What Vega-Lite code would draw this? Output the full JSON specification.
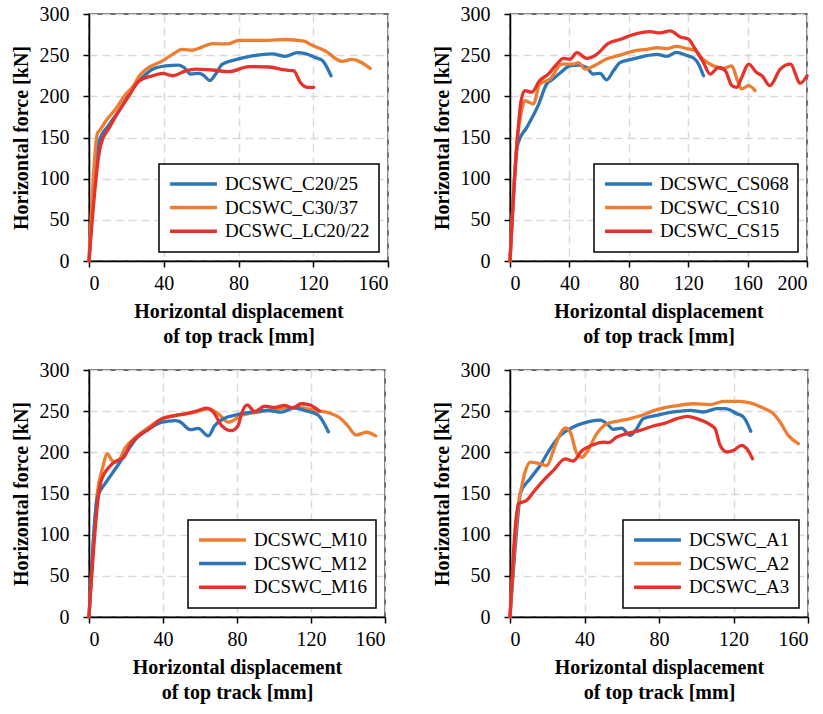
{
  "$schema": "https://vega.github.io/schema/vega-lite/v6.json",
  "padding": {"left": 10, "top": 3, "right": 0, "bottom": 2},
  "background": "white",
  "columns": 2,
  "spacing": {"row": 109, "column": 122},
  "bounds": "flush",
  "align": "none",
  "resolve": {"scale": {"color": "independent", "x": "independent", "y": "independent"}, "legend": {"color": "independent"}},
  "concat": [
    {
      "width": 299, "height": 247,
      "data": {"values": [
        {"s":"DCSWC_C20/25","x":0,"y":0},{"s":"DCSWC_C20/25","x":4.8,"y":138},{"s":"DCSWC_C20/25","x":5.5,"y":146},{"s":"DCSWC_C20/25","x":10.9,"y":166},{"s":"DCSWC_C20/25","x":18,"y":189},{"s":"DCSWC_C20/25","x":23.3,"y":211},{"s":"DCSWC_C20/25","x":28.6,"y":223},{"s":"DCSWC_C20/25","x":34,"y":233},{"s":"DCSWC_C20/25","x":41,"y":237},{"s":"DCSWC_C20/25","x":48,"y":238},{"s":"DCSWC_C20/25","x":50.9,"y":235},{"s":"DCSWC_C20/25","x":54.4,"y":227},{"s":"DCSWC_C20/25","x":59,"y":228},{"s":"DCSWC_C20/25","x":61.6,"y":225},{"s":"DCSWC_C20/25","x":64.6,"y":219},{"s":"DCSWC_C20/25","x":67.8,"y":227},{"s":"DCSWC_C20/25","x":71.4,"y":239},{"s":"DCSWC_C20/25","x":78.5,"y":244.5},{"s":"DCSWC_C20/25","x":87.4,"y":249},{"s":"DCSWC_C20/25","x":98,"y":251.5},{"s":"DCSWC_C20/25","x":105,"y":248.6},{"s":"DCSWC_C20/25","x":111.4,"y":253},{"s":"DCSWC_C20/25","x":115.8,"y":252},{"s":"DCSWC_C20/25","x":121.2,"y":247},{"s":"DCSWC_C20/25","x":124.7,"y":244},{"s":"DCSWC_C20/25","x":129.5,"y":225},
        {"s":"DCSWC_C30/37","x":0,"y":0},{"s":"DCSWC_C30/37","x":4.5,"y":155},{"s":"DCSWC_C30/37","x":5.5,"y":158},{"s":"DCSWC_C30/37","x":9,"y":170},{"s":"DCSWC_C30/37","x":14.4,"y":185},{"s":"DCSWC_C30/37","x":19.8,"y":203},{"s":"DCSWC_C30/37","x":23.3,"y":211},{"s":"DCSWC_C30/37","x":27,"y":225},{"s":"DCSWC_C30/37","x":31.3,"y":234},{"s":"DCSWC_C30/37","x":39.3,"y":243},{"s":"DCSWC_C30/37","x":44.7,"y":251},{"s":"DCSWC_C30/37","x":50,"y":257},{"s":"DCSWC_C30/37","x":55.3,"y":256},{"s":"DCSWC_C30/37","x":60.7,"y":260},{"s":"DCSWC_C30/37","x":66,"y":264},{"s":"DCSWC_C30/37","x":74,"y":263.6},{"s":"DCSWC_C30/37","x":80.2,"y":268},{"s":"DCSWC_C30/37","x":87.4,"y":268},{"s":"DCSWC_C30/37","x":96,"y":268},{"s":"DCSWC_C30/37","x":105,"y":269},{"s":"DCSWC_C30/37","x":115,"y":267},{"s":"DCSWC_C30/37","x":119.4,"y":262},{"s":"DCSWC_C30/37","x":126.5,"y":255},{"s":"DCSWC_C30/37","x":135.4,"y":242.5},{"s":"DCSWC_C30/37","x":140.7,"y":245},{"s":"DCSWC_C30/37","x":150.5,"y":234},
        {"s":"DCSWC_LC20/22","x":0,"y":0},{"s":"DCSWC_LC20/22","x":5.5,"y":132},{"s":"DCSWC_LC20/22","x":6.4,"y":142},{"s":"DCSWC_LC20/22","x":10.9,"y":162},{"s":"DCSWC_LC20/22","x":16.2,"y":183},{"s":"DCSWC_LC20/22","x":21.5,"y":201},{"s":"DCSWC_LC20/22","x":27,"y":219},{"s":"DCSWC_LC20/22","x":34,"y":225},{"s":"DCSWC_LC20/22","x":39.3,"y":228},{"s":"DCSWC_LC20/22","x":44.7,"y":225},{"s":"DCSWC_LC20/22","x":51.8,"y":231},{"s":"DCSWC_LC20/22","x":57,"y":233},{"s":"DCSWC_LC20/22","x":66,"y":232},{"s":"DCSWC_LC20/22","x":75,"y":230},{"s":"DCSWC_LC20/22","x":85.6,"y":236},{"s":"DCSWC_LC20/22","x":96.3,"y":235.6},{"s":"DCSWC_LC20/22","x":105,"y":232},{"s":"DCSWC_LC20/22","x":109.6,"y":231},{"s":"DCSWC_LC20/22","x":113,"y":217},{"s":"DCSWC_LC20/22","x":116.7,"y":211},{"s":"DCSWC_LC20/22","x":120.3,"y":211}
      ]},
      "mark": {"type": "line", "interpolate": "monotone", "strokeWidth": 3.3, "strokeCap": "round"},
      "encoding": {
        "x": {"field": "x", "type": "quantitative", "scale": {"domain": [0, 160], "nice": false}, "axis": {"values": [0, 40, 80, 120, 160], "title": ["Horizontal displacement", "of top track [mm]"]}},
        "y": {"field": "y", "type": "quantitative", "scale": {"domain": [0, 300], "nice": false}, "axis": {"values": [0, 50, 100, 150, 200, 250, 300], "title": "Horizontal force [kN]"}},
        "color": {"field": "s", "type": "nominal", "scale": {"domain": ["DCSWC_C20/25", "DCSWC_C30/37", "DCSWC_LC20/22"], "range": ["#2e75b6", "#ed7d31", "#e5322b"]}, "legend": {"title": null}}
      }
    },
    {
      "width": 297, "height": 247,
      "data": {"values": [
        {"s":"DCSWC_CS068","x":0,"y":0},{"s":"DCSWC_CS068","x":5,"y":140},{"s":"DCSWC_CS068","x":5.6,"y":144},{"s":"DCSWC_CS068","x":11.2,"y":162},{"s":"DCSWC_CS068","x":19,"y":189},{"s":"DCSWC_CS068","x":24.7,"y":215},{"s":"DCSWC_CS068","x":29,"y":221},{"s":"DCSWC_CS068","x":34.8,"y":230},{"s":"DCSWC_CS068","x":40.4,"y":237},{"s":"DCSWC_CS068","x":46,"y":238},{"s":"DCSWC_CS068","x":51.7,"y":235},{"s":"DCSWC_CS068","x":56,"y":227},{"s":"DCSWC_CS068","x":60.7,"y":228},{"s":"DCSWC_CS068","x":65,"y":220},{"s":"DCSWC_CS068","x":69.7,"y":231},{"s":"DCSWC_CS068","x":74,"y":241},{"s":"DCSWC_CS068","x":81,"y":244.5},{"s":"DCSWC_CS068","x":90,"y":248.6},{"s":"DCSWC_CS068","x":99,"y":251},{"s":"DCSWC_CS068","x":105.6,"y":248.6},{"s":"DCSWC_CS068","x":112,"y":253.5},{"s":"DCSWC_CS068","x":119,"y":249.6},{"s":"DCSWC_CS068","x":123.6,"y":246.6},{"s":"DCSWC_CS068","x":127,"y":239},{"s":"DCSWC_CS068","x":130.3,"y":225},
        {"s":"DCSWC_CS10","x":0,"y":0},{"s":"DCSWC_CS10","x":5,"y":150},{"s":"DCSWC_CS10","x":7.5,"y":180},{"s":"DCSWC_CS10","x":10,"y":194.7},{"s":"DCSWC_CS10","x":12.5,"y":193},{"s":"DCSWC_CS10","x":15.7,"y":190.7},{"s":"DCSWC_CS10","x":20,"y":215},{"s":"DCSWC_CS10","x":27,"y":221},{"s":"DCSWC_CS10","x":34.8,"y":239},{"s":"DCSWC_CS10","x":42.7,"y":239},{"s":"DCSWC_CS10","x":46,"y":241},{"s":"DCSWC_CS10","x":50.6,"y":233},{"s":"DCSWC_CS10","x":56,"y":236.4},{"s":"DCSWC_CS10","x":65,"y":245.3},{"s":"DCSWC_CS10","x":74,"y":250},{"s":"DCSWC_CS10","x":83,"y":255},{"s":"DCSWC_CS10","x":92,"y":257},{"s":"DCSWC_CS10","x":99,"y":259},{"s":"DCSWC_CS10","x":105.6,"y":258},{"s":"DCSWC_CS10","x":112,"y":260.7},{"s":"DCSWC_CS10","x":119,"y":258},{"s":"DCSWC_CS10","x":124.7,"y":255.5},{"s":"DCSWC_CS10","x":130,"y":245},{"s":"DCSWC_CS10","x":137,"y":237},{"s":"DCSWC_CS10","x":144,"y":234},{"s":"DCSWC_CS10","x":149.4,"y":237},{"s":"DCSWC_CS10","x":152.8,"y":221},{"s":"DCSWC_CS10","x":156,"y":209},{"s":"DCSWC_CS10","x":160.7,"y":213},{"s":"DCSWC_CS10","x":165,"y":207},
        {"s":"DCSWC_CS15","x":0,"y":0},{"s":"DCSWC_CS15","x":5.2,"y":155},{"s":"DCSWC_CS15","x":7.5,"y":195},{"s":"DCSWC_CS15","x":10,"y":207},{"s":"DCSWC_CS15","x":14.6,"y":205},{"s":"DCSWC_CS15","x":20,"y":219},{"s":"DCSWC_CS15","x":25.8,"y":227},{"s":"DCSWC_CS15","x":31.5,"y":239},{"s":"DCSWC_CS15","x":36,"y":246},{"s":"DCSWC_CS15","x":40.4,"y":245},{"s":"DCSWC_CS15","x":45,"y":253},{"s":"DCSWC_CS15","x":51.7,"y":246},{"s":"DCSWC_CS15","x":58.4,"y":251},{"s":"DCSWC_CS15","x":66,"y":264},{"s":"DCSWC_CS15","x":74,"y":269},{"s":"DCSWC_CS15","x":83,"y":275},{"s":"DCSWC_CS15","x":94.4,"y":278.5},{"s":"DCSWC_CS15","x":101,"y":277},{"s":"DCSWC_CS15","x":108,"y":279.6},{"s":"DCSWC_CS15","x":114.6,"y":272},{"s":"DCSWC_CS15","x":120,"y":269.6},{"s":"DCSWC_CS15","x":124.7,"y":257.5},{"s":"DCSWC_CS15","x":130.3,"y":241},{"s":"DCSWC_CS15","x":134.8,"y":227},{"s":"DCSWC_CS15","x":140.4,"y":235},{"s":"DCSWC_CS15","x":145,"y":231},{"s":"DCSWC_CS15","x":149.4,"y":213},{"s":"DCSWC_CS15","x":152.8,"y":211},{"s":"DCSWC_CS15","x":156,"y":223},{"s":"DCSWC_CS15","x":160.7,"y":239},{"s":"DCSWC_CS15","x":166,"y":229},{"s":"DCSWC_CS15","x":169.7,"y":225},{"s":"DCSWC_CS15","x":175,"y":213},{"s":"DCSWC_CS15","x":182,"y":233},{"s":"DCSWC_CS15","x":188.8,"y":239},{"s":"DCSWC_CS15","x":195.5,"y":216},{"s":"DCSWC_CS15","x":200,"y":225}
      ]},
      "mark": {"type": "line", "interpolate": "monotone", "strokeWidth": 3.3, "strokeCap": "round"},
      "encoding": {
        "x": {"field": "x", "type": "quantitative", "scale": {"domain": [0, 200], "nice": false}, "axis": {"values": [0, 40, 80, 120, 160, 200], "title": ["Horizontal displacement", "of top track [mm]"]}},
        "y": {"field": "y", "type": "quantitative", "scale": {"domain": [0, 300], "nice": false}, "axis": {"values": [0, 50, 100, 150, 200, 250, 300], "title": "Horizontal force [kN]"}},
        "color": {"field": "s", "type": "nominal", "scale": {"domain": ["DCSWC_CS068", "DCSWC_CS10", "DCSWC_CS15"], "range": ["#2e75b6", "#ed7d31", "#e5322b"]}, "legend": {"title": null}}
      }
    },
    {
      "width": 296, "height": 247,
      "data": {"values": [
        {"s":"DCSWC_M10","x":0,"y":0},{"s":"DCSWC_M10","x":4.5,"y":151},{"s":"DCSWC_M10","x":7.2,"y":180},{"s":"DCSWC_M10","x":9.9,"y":198},{"s":"DCSWC_M10","x":12.5,"y":190},{"s":"DCSWC_M10","x":15.2,"y":188},{"s":"DCSWC_M10","x":19.7,"y":206},{"s":"DCSWC_M10","x":25,"y":218},{"s":"DCSWC_M10","x":32,"y":230},{"s":"DCSWC_M10","x":39.4,"y":240.7},{"s":"DCSWC_M10","x":48.4,"y":245.5},{"s":"DCSWC_M10","x":57.3,"y":248.8},{"s":"DCSWC_M10","x":64.5,"y":252.8},{"s":"DCSWC_M10","x":70,"y":246.7},{"s":"DCSWC_M10","x":75.3,"y":236.6},{"s":"DCSWC_M10","x":82.4,"y":244.7},{"s":"DCSWC_M10","x":91.4,"y":248.8},{"s":"DCSWC_M10","x":102,"y":252.8},{"s":"DCSWC_M10","x":113,"y":255},{"s":"DCSWC_M10","x":122,"y":251},{"s":"DCSWC_M10","x":131,"y":247},{"s":"DCSWC_M10","x":135,"y":242.7},{"s":"DCSWC_M10","x":139.8,"y":232.5},{"s":"DCSWC_M10","x":144.3,"y":221},{"s":"DCSWC_M10","x":150,"y":224.4},{"s":"DCSWC_M10","x":155,"y":220},
        {"s":"DCSWC_M12","x":0,"y":0},{"s":"DCSWC_M12","x":4.5,"y":145},{"s":"DCSWC_M12","x":9,"y":163},{"s":"DCSWC_M12","x":14.3,"y":180},{"s":"DCSWC_M12","x":19.7,"y":198},{"s":"DCSWC_M12","x":26,"y":218},{"s":"DCSWC_M12","x":32.2,"y":228},{"s":"DCSWC_M12","x":39.4,"y":236.6},{"s":"DCSWC_M12","x":46.6,"y":238.6},{"s":"DCSWC_M12","x":49.3,"y":237},{"s":"DCSWC_M12","x":54.7,"y":227.6},{"s":"DCSWC_M12","x":59,"y":229},{"s":"DCSWC_M12","x":64.5,"y":220},{"s":"DCSWC_M12","x":68,"y":232.5},{"s":"DCSWC_M12","x":72.6,"y":240.7},{"s":"DCSWC_M12","x":79.7,"y":245.5},{"s":"DCSWC_M12","x":87.8,"y":248.8},{"s":"DCSWC_M12","x":96.8,"y":250.8},{"s":"DCSWC_M12","x":104,"y":248.8},{"s":"DCSWC_M12","x":111,"y":254},{"s":"DCSWC_M12","x":116.5,"y":250.8},{"s":"DCSWC_M12","x":123.7,"y":245.5},{"s":"DCSWC_M12","x":129.4,"y":225},
        {"s":"DCSWC_M16","x":0,"y":0},{"s":"DCSWC_M16","x":5,"y":145},{"s":"DCSWC_M16","x":6.3,"y":163},{"s":"DCSWC_M16","x":10.8,"y":182},{"s":"DCSWC_M16","x":15.2,"y":190},{"s":"DCSWC_M16","x":18.8,"y":194},{"s":"DCSWC_M16","x":22.4,"y":210},{"s":"DCSWC_M16","x":26.9,"y":220},{"s":"DCSWC_M16","x":32.2,"y":228},{"s":"DCSWC_M16","x":39.4,"y":240.7},{"s":"DCSWC_M16","x":46.6,"y":244.7},{"s":"DCSWC_M16","x":52,"y":246.7},{"s":"DCSWC_M16","x":59,"y":250.8},{"s":"DCSWC_M16","x":63.6,"y":253.6},{"s":"DCSWC_M16","x":67.2,"y":248.8},{"s":"DCSWC_M16","x":71.7,"y":232.5},{"s":"DCSWC_M16","x":77,"y":226.4},{"s":"DCSWC_M16","x":80.6,"y":232.5},{"s":"DCSWC_M16","x":82.4,"y":246.7},{"s":"DCSWC_M16","x":85.5,"y":257.7},{"s":"DCSWC_M16","x":89.6,"y":249.6},{"s":"DCSWC_M16","x":95,"y":256},{"s":"DCSWC_M16","x":100.4,"y":254.5},{"s":"DCSWC_M16","x":105.7,"y":257},{"s":"DCSWC_M16","x":110.2,"y":254},{"s":"DCSWC_M16","x":114.7,"y":259},{"s":"DCSWC_M16","x":119.2,"y":257.7},{"s":"DCSWC_M16","x":124.6,"y":250}
      ]},
      "mark": {"type": "line", "interpolate": "monotone", "strokeWidth": 3.3, "strokeCap": "round"},
      "encoding": {
        "x": {"field": "x", "type": "quantitative", "scale": {"domain": [0, 160], "nice": false}, "axis": {"values": [0, 40, 80, 120, 160], "title": ["Horizontal displacement", "of top track [mm]"]}},
        "y": {"field": "y", "type": "quantitative", "scale": {"domain": [0, 300], "nice": false}, "axis": {"values": [0, 50, 100, 150, 200, 250, 300], "title": "Horizontal force [kN]"}},
        "color": {"field": "s", "type": "nominal", "scale": {"domain": ["DCSWC_M10", "DCSWC_M12", "DCSWC_M16"], "range": ["#ed7d31", "#2e75b6", "#e5322b"]}, "legend": {"title": null}}
      }
    },
    {
      "width": 298, "height": 247,
      "data": {"values": [
        {"s":"DCSWC_A1","x":0,"y":0},{"s":"DCSWC_A1","x":5,"y":140},{"s":"DCSWC_A1","x":5.5,"y":150},{"s":"DCSWC_A1","x":10.8,"y":168},{"s":"DCSWC_A1","x":16.2,"y":184},{"s":"DCSWC_A1","x":21.6,"y":204.5},{"s":"DCSWC_A1","x":27,"y":220.6},{"s":"DCSWC_A1","x":34,"y":230.8},{"s":"DCSWC_A1","x":41.2,"y":236.8},{"s":"DCSWC_A1","x":48.4,"y":239},{"s":"DCSWC_A1","x":52,"y":234.8},{"s":"DCSWC_A1","x":55.5,"y":228},{"s":"DCSWC_A1","x":60,"y":229.5},{"s":"DCSWC_A1","x":64.5,"y":220.6},{"s":"DCSWC_A1","x":68,"y":228.7},{"s":"DCSWC_A1","x":71.6,"y":241},{"s":"DCSWC_A1","x":78.8,"y":245},{"s":"DCSWC_A1","x":87.7,"y":249},{"s":"DCSWC_A1","x":96.7,"y":251},{"s":"DCSWC_A1","x":103.8,"y":249},{"s":"DCSWC_A1","x":111,"y":253},{"s":"DCSWC_A1","x":115.5,"y":253},{"s":"DCSWC_A1","x":121.7,"y":247},{"s":"DCSWC_A1","x":125.3,"y":243},{"s":"DCSWC_A1","x":129.3,"y":225.5},
        {"s":"DCSWC_A2","x":0,"y":0},{"s":"DCSWC_A2","x":5,"y":145},{"s":"DCSWC_A2","x":5.5,"y":150},{"s":"DCSWC_A2","x":8.1,"y":176},{"s":"DCSWC_A2","x":10.8,"y":188},{"s":"DCSWC_A2","x":16.2,"y":186},{"s":"DCSWC_A2","x":19.8,"y":184},{"s":"DCSWC_A2","x":23.3,"y":202},{"s":"DCSWC_A2","x":27,"y":222.7},{"s":"DCSWC_A2","x":29.6,"y":229.6},{"s":"DCSWC_A2","x":32.3,"y":224.7},{"s":"DCSWC_A2","x":35.9,"y":198.4},{"s":"DCSWC_A2","x":38.6,"y":194},{"s":"DCSWC_A2","x":41.2,"y":200},{"s":"DCSWC_A2","x":46.6,"y":222.7},{"s":"DCSWC_A2","x":52,"y":234.8},{"s":"DCSWC_A2","x":57.3,"y":237.7},{"s":"DCSWC_A2","x":64.5,"y":241},{"s":"DCSWC_A2","x":71.6,"y":245.7},{"s":"DCSWC_A2","x":78.8,"y":251.8},{"s":"DCSWC_A2","x":87.7,"y":256},{"s":"DCSWC_A2","x":98.5,"y":259},{"s":"DCSWC_A2","x":107.4,"y":257.9},{"s":"DCSWC_A2","x":114.6,"y":262},{"s":"DCSWC_A2","x":123.5,"y":262},{"s":"DCSWC_A2","x":128.9,"y":260},{"s":"DCSWC_A2","x":136,"y":253.8},{"s":"DCSWC_A2","x":141.4,"y":247},{"s":"DCSWC_A2","x":145,"y":236.8},{"s":"DCSWC_A2","x":149.4,"y":220.6},{"s":"DCSWC_A2","x":154.8,"y":210.5},
        {"s":"DCSWC_A3","x":0,"y":0},{"s":"DCSWC_A3","x":4.6,"y":137.6},{"s":"DCSWC_A3","x":9,"y":141.7},{"s":"DCSWC_A3","x":12.6,"y":151.8},{"s":"DCSWC_A3","x":18,"y":166},{"s":"DCSWC_A3","x":23.3,"y":178},{"s":"DCSWC_A3","x":29.6,"y":192},{"s":"DCSWC_A3","x":34,"y":189.5},{"s":"DCSWC_A3","x":38.6,"y":202},{"s":"DCSWC_A3","x":43.9,"y":208.5},{"s":"DCSWC_A3","x":50.2,"y":212.5},{"s":"DCSWC_A3","x":52.9,"y":211.7},{"s":"DCSWC_A3","x":57.3,"y":218.6},{"s":"DCSWC_A3","x":62.7,"y":222.7},{"s":"DCSWC_A3","x":69.9,"y":226.7},{"s":"DCSWC_A3","x":77,"y":232},{"s":"DCSWC_A3","x":82.4,"y":234.8},{"s":"DCSWC_A3","x":89.6,"y":240.9},{"s":"DCSWC_A3","x":95,"y":243.7},{"s":"DCSWC_A3","x":100.3,"y":241},{"s":"DCSWC_A3","x":107.4,"y":233.6},{"s":"DCSWC_A3","x":110.1,"y":228.7},{"s":"DCSWC_A3","x":112.8,"y":208.5},{"s":"DCSWC_A3","x":116.4,"y":200.4},{"s":"DCSWC_A3","x":120,"y":202.4},{"s":"DCSWC_A3","x":124.4,"y":208.5},{"s":"DCSWC_A3","x":127.1,"y":204.5},{"s":"DCSWC_A3","x":130.2,"y":192.3}
      ]},
      "mark": {"type": "line", "interpolate": "monotone", "strokeWidth": 3.3, "strokeCap": "round"},
      "encoding": {
        "x": {"field": "x", "type": "quantitative", "scale": {"domain": [0, 160], "nice": false}, "axis": {"values": [0, 40, 80, 120, 160], "title": ["Horizontal displacement", "of top track [mm]"]}},
        "y": {"field": "y", "type": "quantitative", "scale": {"domain": [0, 300], "nice": false}, "axis": {"values": [0, 50, 100, 150, 200, 250, 300], "title": "Horizontal force [kN]"}},
        "color": {"field": "s", "type": "nominal", "scale": {"domain": ["DCSWC_A1", "DCSWC_A2", "DCSWC_A3"], "range": ["#2e75b6", "#ed7d31", "#e5322b"]}, "legend": {"title": null}}
      }
    }
  ],
  "config": {
    "font": "Liberation Serif",
    "view": {"stroke": "#404040", "strokeWidth": 1.5},
    "axis": {
      "labelFont": "Liberation Serif", "labelFontSize": 20, "labelColor": "black",
      "titleFont": "Liberation Serif", "titleFontSize": 20, "titleFontWeight": "bold", "titleColor": "black",
      "domainColor": "black", "domainWidth": 1.5, "tickColor": "black", "tickSize": 6, "tickWidth": 1.5,
      "gridColor": "#d9d9d9", "gridDash": [8, 5], "gridWidth": 1.5
    },
    "axisY": {"labelPadding": 14, "titlePadding": 8},
    "axisX": {"labelPadding": 6, "titlePadding": 8, "titleLineHeight": 25},
    "legend": {
      "orient": "bottom-right", "offset": 9, "symbolType": "stroke", "symbolSize": 2200, "symbolStrokeWidth": 3.5,
      "clipHeight": 22, "rowPadding": 1.6, "labelFont": "Liberation Serif", "labelFontSize": 19, "labelColor": "black",
      "labelOffset": 6, "padding": 9, "strokeColor": "black", "strokeWidth": 1.5, "fillColor": "white", "labelLimit": 300
    }
  }
}
